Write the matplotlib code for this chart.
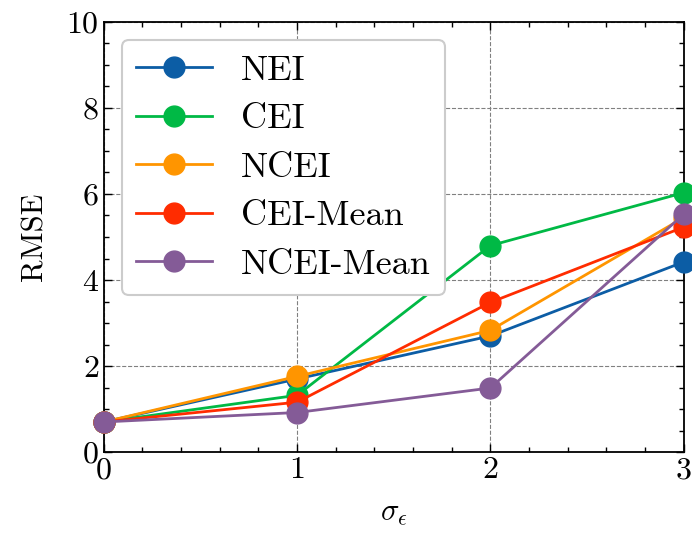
import matplotlib
matplotlib.use("Agg")
import matplotlib.pyplot as plt
from matplotlib.ticker import MultipleLocator

# noise level vs RMSE for each acquisition variant
sigma = [0, 1, 2, 3]
nei = [0.70, 1.70, 2.70, 4.42]
cei = [0.70, 1.32, 4.80, 6.03]
ncei = [0.70, 1.76, 2.83, 5.45]
cei_mean = [0.70, 1.16, 3.48, 5.23]
ncei_mean = [0.70, 0.92, 1.49, 5.53]

series = [
    ("NEI", nei, "#0C5DA5"),
    ("CEI", cei, "#00B945"),
    ("NCEI", ncei, "#FF9500"),
    ("CEI-Mean", cei_mean, "#FF2C00"),
    ("NCEI-Mean", ncei_mean, "#845B97"),
]

plt.rcParams["font.family"] = "cmr10"
plt.rcParams["mathtext.fontset"] = "cm"
plt.rcParams["axes.formatter.use_mathtext"] = True
plt.rcParams["font.size"] = 22

fig = plt.figure(figsize=(6.92, 5.35), dpi=100)
ax = fig.add_axes([0.150, 0.155, 0.838, 0.804])

for name, vals, col in series:
    ax.plot(sigma, vals, marker="o", markersize=15, linewidth=2.0,
            color=col, label=name, clip_on=False, zorder=3)

ax.set_xlim(0, 3)
ax.set_ylim(0, 10)
ax.xaxis.set_major_locator(MultipleLocator(1))
ax.xaxis.set_minor_locator(MultipleLocator(0.2))
ax.yaxis.set_major_locator(MultipleLocator(2))
ax.yaxis.set_minor_locator(MultipleLocator(0.5))
ax.tick_params(which="both", direction="in", top=True, right=True, width=1.0,
               labelsize=23)
ax.tick_params(which="major", length=6)
ax.tick_params(which="minor", length=3.5)
for sp in ax.spines.values():
    sp.set_linewidth(1.3)

ax.grid(True, which="major", linestyle="--", color="gray", linewidth=0.8, zorder=0)
ax.set_axisbelow(True)

ax.set_xlabel(r"$\sigma_\epsilon$", fontsize=22, labelpad=11)
ax.set_ylabel("RMSE", fontsize=22, labelpad=13)

leg = ax.legend(loc="upper left", frameon=True, fancybox=True, framealpha=1.0,
                edgecolor="#cccccc", borderpad=0.4, labelspacing=0.45,
                handlelength=2.1, handletextpad=0.8, fontsize=26)
leg.get_frame().set_linewidth(1.5)

fig.savefig("out.png", dpi=100)
